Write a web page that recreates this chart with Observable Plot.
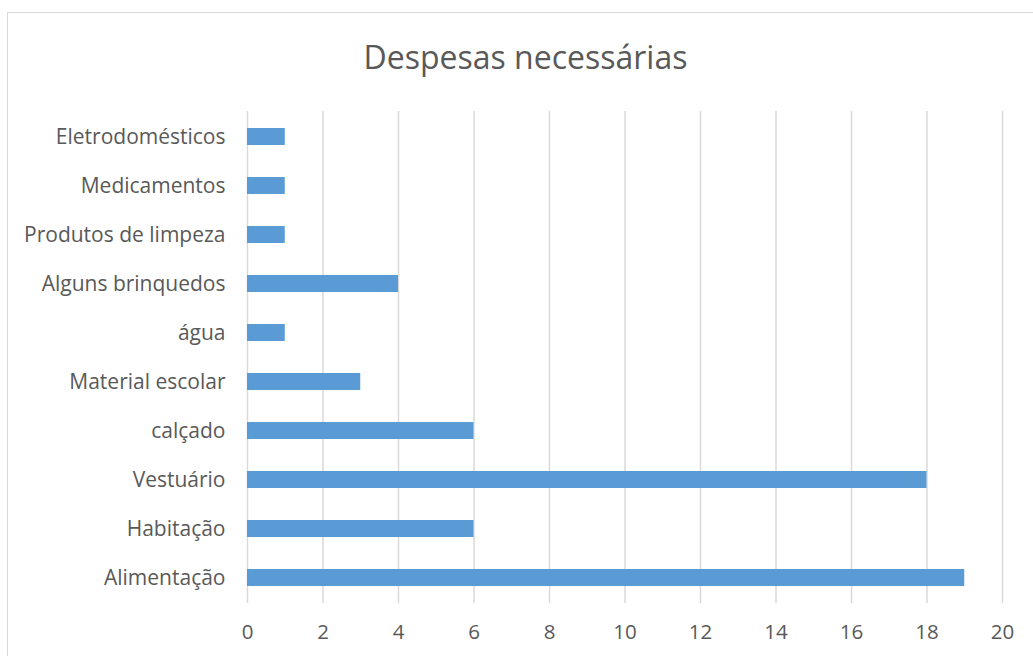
<!DOCTYPE html>
<html>
<head>
<meta charset="utf-8">
<script src="https://cdn.jsdelivr.net/npm/d3@7"></script>
<script src="https://cdn.jsdelivr.net/npm/@observablehq/plot@0.6"></script>
<style>
  html, body { margin: 0; padding: 0; background: #fff; overflow: hidden; }
  #frame { position: absolute; left: 7px; top: 12px; width: 1100px; height: 700px; border: 1.5px solid #d9d9d9; box-sizing: border-box; }
  #title { position: absolute; left: 0; width: 1051px; top: 35px; text-align: center; font-family: "Open Sans", sans-serif; font-size: 32px; color: #595959; line-height: 44px; }
  #chart { position: absolute; left: 0; top: 0; }
</style>
</head>
<body>
<div id="frame"></div>
<div id="title">Despesas necessárias</div>
<div id="chart"></div>
<script>
const categories = ["Eletrodomésticos", "Medicamentos", "Produtos de limpeza", "Alguns brinquedos", "água", "Material escolar", "calçado", "Vestuário", "Habitação", "Alimentação"];
const values = [1, 1, 1, 4, 1, 3, 6, 18, 6, 19];
const xTicks = [0, 2, 4, 6, 8, 10, 12, 14, 16, 18, 20];

const data = categories.map((c, i) => ({category: c, value: values[i]}));

const chart = Plot.plot({
  width: 1033,
  height: 656,
  marginLeft: 247,
  marginRight: 31,
  marginTop: 111,
  marginBottom: 53,
  style: {fontFamily: "'Open Sans', sans-serif", fontSize: "21px", color: "#595959", background: "transparent"},
  x: {domain: [0, 20], ticks: xTicks, label: null, tickSize: 0, tickPadding: 22},
  y: {domain: categories, label: null, tickSize: 0, tickPadding: 22, paddingInner: 0.655, paddingOuter: 0.3275, align: 0.5},
  marks: [
    Plot.ruleX(xTicks, {stroke: "#d9d9d9", strokeWidth: 1.5, strokeOpacity: 1}),
    Plot.barX(data, {x: "value", y: "category", fill: "#5b9bd5"}),
    Plot.axisX({ticks: xTicks, tickSize: 0, tickPadding: 21, fontSize: 20.5, label: null}),
    Plot.axisY({tickSize: 0, tickPadding: 22, fontSize: 21, label: null})
  ]
});
document.getElementById("chart").appendChild(chart);
</script>
</body>
</html>
